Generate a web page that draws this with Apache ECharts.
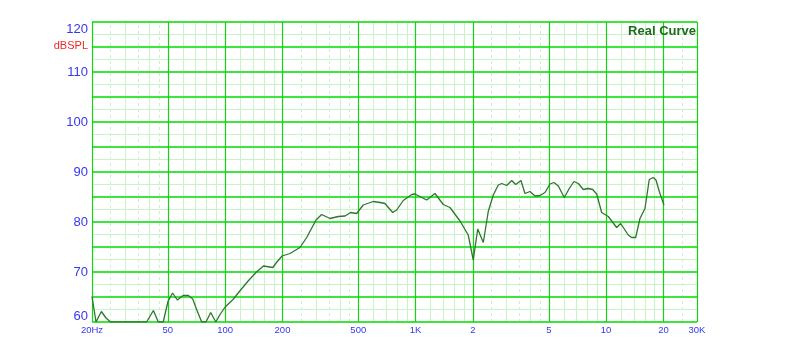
<!DOCTYPE html>
<html><head><meta charset="utf-8">
<script src="https://cdn.jsdelivr.net/npm/echarts@6/dist/echarts.min.js"></script>
<style>html,body{margin:0;padding:0;background:#fff}#c{width:800px;height:359px}</style>
</head><body><div id="c"></div>
<script>
const freqHz = [20, 21, 22.4, 23.7, 25, 38.7, 42, 44.6, 47.3, 50.1, 53, 56.1, 60.1, 64.1, 67.6, 70.7, 75.3, 79.3, 84, 89.3, 94,
  100, 110, 120, 132, 146, 159, 178, 186, 199, 219, 247, 268, 300, 321, 355, 393, 426, 456, 490, 531, 599, 650, 690, 758, 795, 861, 954, 992,
  1143, 1263, 1397, 1515, 1710, 1889, 2007, 2118, 2266, 2406, 2556, 2716, 2830, 3007, 3195, 3352, 3573, 3750, 3984, 4233, 4497, 4777,
  5075, 5327, 5610, 6031, 6406, 6781, 7142, 7586, 8059, 8500, 8922, 9476, 10262, 11360, 11924, 13070, 13620, 14296, 15056, 15994,
  16848, 17684, 18266, 19170, 20120];
const splDb = [65.1, 60, 62.1, 60.8, 60, 60, 62.3, 60, 60, 64.1, 65.8, 64.4, 65.3, 65.3, 64.6, 62.6, 60, 60, 61.9, 60, 61.5,
  63.0, 64.5, 66.3, 68.2, 70.0, 71.2, 70.9, 71.9, 73.2, 73.7, 74.9, 76.9, 80.4, 81.5, 80.7, 81.1, 81.2, 81.9, 81.7, 83.4, 84.1, 83.9, 83.7, 81.9, 82.4, 84.3, 85.5, 85.6,
  84.4, 85.7, 83.5, 82.9, 80.2, 77.4, 72.4, 78.6, 75.9, 82.1, 85.4, 87.4, 87.7, 87.3, 88.3, 87.5, 88.3, 85.7, 86.1, 85.2, 85.3, 85.9,
  87.6, 87.9, 87.2, 84.9, 86.7, 88.1, 87.7, 86.5, 86.7, 86.5, 85.6, 81.9, 81.1, 78.9, 79.7, 77.4, 76.9, 76.9, 80.7, 82.7,
  88.5, 88.9, 88.4, 85.7, 83.4];

// Axis tick labels
const xTickValues = [20, 50, 100, 200, 500, 1000, 2000, 5000, 10000, 20000, 30000];
const xTickLabels = ['20Hz', '50', '100', '200', '500', '1K', '2', '5', '10', '20', '30K'];
const yTickValues = [60, 70, 80, 90, 100, 110, 120];

// Grid line positions (per decade multipliers)
const decades = [10, 100, 1000, 10000];
const xMajorMult = [1, 2, 5];
const xMinorMult = [1.2, 1.4, 1.6, 1.8, 3, 4, 6, 7, 8, 9];
const xDashMult = [2.5, 3.5, 4.5];
const xMin = 20, xMax = 30000, yMin = 60, yMax = 120;

function inRange(v) { return v >= xMin - 1e-6 && v <= xMax + 1e-6; }
function gen(mults) {
  const out = [];
  decades.forEach(d => mults.forEach(m => { const v = Math.round(d * m * 1000) / 1000; if (inRange(v)) out.push(v); }));
  return out;
}
const xMajor = gen(xMajorMult).concat([xMax]);
const xMinor = gen(xMinorMult).filter(v => v !== xMax);
const xDash = gen(xDashMult);
const yMajor = [], yMinor = [];
for (let v = yMin; v <= yMax; v += 5) yMajor.push(v);
for (let v = yMin + 2.5; v < yMax; v += 5) yMinor.push(v);

const minorColor = '#c9f3c9';
const gridLines = [];
yMinor.forEach(v => gridLines.push({ yAxis: v, lineStyle: { color: minorColor, width: 1, type: 'solid' } }));
xMinor.forEach(v => gridLines.push({ xAxis: v, lineStyle: { color: minorColor, width: 1, type: 'solid' } }));
xDash.forEach(v => gridLines.push({ xAxis: v, lineStyle: { color: minorColor, width: 1, type: [3, 3] } }));
yMajor.forEach(v => gridLines.push({ yAxis: v, lineStyle: { color: '#3ce63c', width: 2, type: 'solid' } }));
xMajor.forEach(v => gridLines.push({ xAxis: v, lineStyle: { color: '#14d214', width: 1.2, type: 'solid' } }));

const blue = '#3636f2';
const chart = echarts.init(document.getElementById('c'), null, { renderer: 'canvas' });
chart.setOption({
  animation: false,
  backgroundColor: '#ffffff',
  textStyle: { fontFamily: 'Liberation Sans, Arial, sans-serif' },
  title: {
    text: 'Real Curve', right: 104, top: 25, padding: 0,
    textStyle: { color: '#1c6c1c', fontSize: 13, fontWeight: 'bold', fontFamily: 'Liberation Sans, Arial, sans-serif' }
  },
  grid: { left: 92, right: 103, top: 22, bottom: 37, containLabel: false },
  xAxis: {
    type: 'log', logBase: 10, min: xMin, max: xMax,
    axisLine: { show: false }, axisTick: { show: false },
    splitLine: { show: false }, minorSplitLine: { show: false },
    axisLabel: {
      customValues: xTickValues,
      margin: 3, color: blue, fontSize: 9.5,
      fontFamily: 'Liberation Sans, Arial, sans-serif',
      formatter: function (v) {
        let best = 0, bd = Infinity;
        xTickValues.forEach((t, i) => { const d = Math.abs(Math.log(t) - Math.log(v)); if (d < bd) { bd = d; best = i; } });
        return xTickLabels[best];
      }
    }
  },
  yAxis: {
    type: 'value', min: yMin, max: yMax, interval: 5,
    axisLine: { show: false }, axisTick: { show: false },
    splitLine: { show: false },
    axisLabel: {
      margin: 4, color: blue, fontSize: 13,
      fontFamily: 'Liberation Sans, Arial, sans-serif',
      formatter: function (v) {
        if (v === 115) return '{u|dBSPL}';
        if (yTickValues.indexOf(v) < 0) return '';
        if (v === yMax) return '{t|' + v + '}';
        if (v === yMin) return '{b|' + v + '}';
        return String(v);
      },
      rich: {
        t: { color: blue, fontSize: 13, padding: [15, 0, 0, 0], fontFamily: 'Liberation Sans, Arial, sans-serif' },
        b: { color: blue, fontSize: 13, padding: [0, 0, 11, 0], fontFamily: 'Liberation Sans, Arial, sans-serif' },
        u: { color: '#f02828', fontSize: 11, padding: [0, 0, 3, 0], fontFamily: 'Liberation Sans, Arial, sans-serif' }
      }
    }
  },
  series: [{
    name: 'Real Curve',
    type: 'line',
    z: 10,
    showSymbol: false,
    symbol: 'none',
    smooth: false,
    clip: true,
    silent: true,
    lineStyle: { color: '#2c772c', width: 1.3 },
    data: freqHz.map((f, i) => [f, splDb[i]]),
    markLine: {
      z: 1,
      silent: true,
      symbol: 'none',
      animation: false,
      label: { show: false },
      emphasis: { disabled: true },
      data: gridLines
    }
  }]
});
</script>
</body></html>
